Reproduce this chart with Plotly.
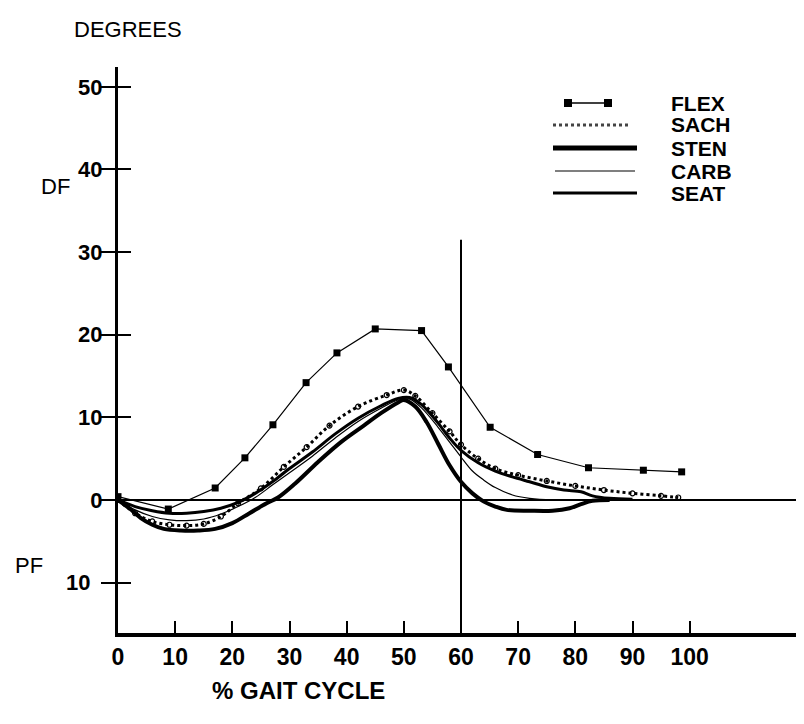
import plotly.graph_objects as go

# ---------------- data ----------------
flex_x = [0, 8.8, 17.0, 22.2, 27.1, 32.9, 38.3, 45.0, 53.1, 57.8, 65.1, 73.4, 82.3, 91.9, 98.6]
flex_y = [0.4, -1.1, 1.45, 5.1, 9.1, 14.2, 17.8, 20.7, 20.5, 16.1, 8.8, 5.5, 3.9, 3.6, 3.4]

sach_x = [0, 3, 6, 9, 12, 15, 18, 21, 25, 29, 33, 37, 42, 47, 50, 52, 55, 58, 60, 63, 66, 70, 75, 80, 85, 90, 95, 98]
sach_y = [0, -1.6, -2.6, -3.0, -3.1, -2.9, -2.0, -0.4, 1.4, 4.0, 6.4, 9.0, 11.3, 12.7, 13.3, 12.6, 10.5, 8.3, 6.7, 5.0, 3.8, 3.0, 2.3, 1.7, 1.2, 0.8, 0.5, 0.3]

sten_x = [0, 2, 4, 6, 8, 11, 14, 17, 20, 23, 26, 28, 31, 35, 39, 43, 46, 49, 50, 52, 54, 56, 58, 60, 62, 64, 66, 68, 72, 76, 79, 81, 83, 86]
sten_y = [0, -1.0, -2.2, -3.0, -3.5, -3.7, -3.7, -3.5, -2.8, -1.6, -0.4, 0.3, 2.0, 4.6, 7.0, 9.0, 10.5, 11.8, 12.1, 11.3, 9.4, 6.8, 4.2, 2.2, 0.8, -0.2, -0.8, -1.2, -1.3, -1.3, -1.0, -0.5, -0.1, 0.0]

carb_x = [0, 3, 6, 9, 12, 15, 18, 21, 24, 27, 30, 34, 38, 42, 46, 49, 51, 53, 56, 58, 60, 62, 64, 66, 69, 72, 76, 80]
carb_y = [0, -1.2, -2.0, -2.4, -2.5, -2.3, -1.7, -0.8, 0.3, 1.8, 3.3, 5.3, 7.5, 9.5, 11.1, 12.1, 12.2, 11.2, 8.8, 7.0, 5.2, 3.5, 2.4, 1.5, 0.6, 0.2, 0.0, 0.0]

seat_x = [0, 3, 6, 9, 12, 15, 18, 21, 24, 27, 30, 34, 38, 42, 46, 49, 51, 53, 56, 58, 60, 63, 66, 69, 72, 75, 78, 81, 83, 86, 90]
seat_y = [0, -0.8, -1.3, -1.6, -1.6, -1.4, -1.0, -0.3, 0.8, 2.2, 3.8, 5.8, 8.0, 9.9, 11.4, 12.3, 12.4, 11.6, 9.3, 7.5, 6.0, 4.5, 3.5, 2.8, 2.2, 1.6, 1.2, 1.0, 0.5, 0.2, 0.1]

toe_off_x = [60, 60]
toe_off_y = [-16.1, 31.5]

x_tick_vals = [0, 10, 20, 30, 40, 50, 60, 70, 80, 90, 100]
x_tick_text = ["0", "10", "20", "30", "40", "50", "60", "70", "80", "90", "100"]
y_tick_vals = [-10, 0, 10, 20, 30, 40, 50]
y_tick_text = ["10\u00a0\u00a0", "0", "10", "20", "30", "40", "50"]

legend_labels = ["FLEX", "SACH", "STEN", "CARB", "SEAT"]

# ---------------- figure ----------------
OFF = 8  # page body margin
W, H = 804 - OFF, 724 - OFF
ML, MT = 118 - OFF, 67 - OFF
MR = 0
MB = H - (633 - OFF)
PW, PH = W - ML - MR, H - MT - MB


def paper(px, py):
    """screen pixel -> paper coordinates (for decorations only)"""
    return (px - OFF - ML) / PW, (H - MB - (py - OFF)) / PH


SANS = "Liberation Sans, Arial, sans-serif"

fig = go.Figure()

fig.add_trace(go.Scatter(x=sach_x, y=sach_y, name="SACH", mode="lines+markers",
                         line=dict(color="black", width=3, dash="dot", shape="spline"),
                         marker=dict(symbol="circle-open", size=5, color="black", line=dict(width=1.2))))
fig.add_trace(go.Scatter(x=carb_x, y=carb_y, name="CARB", mode="lines",
                         line=dict(color="black", width=1.2, shape="spline")))
fig.add_trace(go.Scatter(x=seat_x, y=seat_y, name="SEAT", mode="lines",
                         line=dict(color="black", width=3, shape="spline")))
fig.add_trace(go.Scatter(x=sten_x, y=sten_y, name="STEN", mode="lines",
                         line=dict(color="black", width=4, shape="spline")))
fig.add_trace(go.Scatter(x=flex_x, y=flex_y, name="FLEX", mode="lines+markers",
                         line=dict(color="black", width=1.2),
                         marker=dict(symbol="square", size=7, color="black")))
fig.add_trace(go.Scatter(x=toe_off_x, y=toe_off_y, mode="lines", yaxis="y2",
                         line=dict(color="black", width=2), hoverinfo="skip"))

# legend (drawn as layout decoration)
shapes = []
annotations = []
leg_rows = [103, 125, 148, 171, 193]
for lab, yy in zip(legend_labels, leg_rows):
    tx, ty = paper(669, yy)
    annotations.append(dict(x=tx, y=ty, xref="paper", yref="paper", text=lab, showarrow=False,
                            xanchor="left", yanchor="middle", height=21,
                            font=dict(family=SANS, size=21, color="black", weight="bold")))


def hline(x0, x1, y, width, dash="solid", color="black"):
    a, b = paper(x0, y)
    c, _ = paper(x1, y)
    shapes.append(dict(type="line", xref="paper", yref="paper", x0=a, y0=b, x1=c, y1=b,
                       line=dict(color=color, width=width, dash=dash)))


def square(cx, cy, s):
    a, b = paper(cx - s / 2, cy + s / 2)
    c, d = paper(cx + s / 2, cy - s / 2)
    shapes.append(dict(type="rect", xref="paper", yref="paper", x0=a, y0=b, x1=c, y1=d,
                       line=dict(width=0), fillcolor="black"))


hline(568, 608, leg_rows[0], 1.5)
square(568, leg_rows[0], 8)
square(608, leg_rows[0], 8)
hline(553, 630, leg_rows[1], 3, dash="dot", color="#444")
hline(553, 637, leg_rows[2], 5)
hline(555, 635, leg_rows[3], 1.2)
hline(553, 637, leg_rows[4], 3)

for txt, (px, py), sz in [("DEGREES", (128, 30), 22), ("DF", (55, 186), 22), ("PF", (29, 565), 22)]:
    ax, ay = paper(px, py)
    annotations.append(dict(x=ax, y=ay, xref="paper", yref="paper", text=txt, showarrow=False,
                            xanchor="center", yanchor="middle",
                            font=dict(family=SANS, size=sz, color="black")))

ax, ay = paper(298, 690)
annotations.append(dict(x=ax, y=ay, xref="paper", yref="paper", text="% GAIT CYCLE", showarrow=False,
                        xanchor="center", yanchor="middle",
                        font=dict(family=SANS, size=24, color="black", weight="bold")))

fig.update_layout(
    width=W, height=H,
    margin=dict(l=ML, r=MR, t=MT, b=MB),
    paper_bgcolor="white", plot_bgcolor="white",
    showlegend=False,
    font=dict(family=SANS, color="black"),
    shapes=shapes, annotations=annotations,
    xaxis=dict(range=[0, 120], showgrid=False, zeroline=False,
               showline=True, linecolor="black", linewidth=4,
               ticks="inside", ticklen=12, tickwidth=1.5, tickcolor="black",
               tickvals=x_tick_vals, ticktext=x_tick_text,
               tickfont=dict(family=SANS, size=23, color="black", weight="bold")),
    yaxis=dict(range=[-16.1, 52.4], showgrid=False,
               zeroline=True, zerolinecolor="black", zerolinewidth=1.5,
               showline=True, linecolor="black", linewidth=3,
               ticks="outside", ticklen=14, tickwidth=1.5, tickcolor="black",
               ticklabelstandoff=-6,
               tickvals=y_tick_vals, ticktext=y_tick_text,
               tickfont=dict(family=SANS, size=22, color="black", weight="bold")),
    yaxis2=dict(overlaying="y", matches="y", showgrid=False, zeroline=False, showline=False,
                ticks="inside", ticklen=13, tickwidth=1.5, tickcolor="black",
                tickvals=y_tick_vals, showticklabels=False),
)

fig.write_html("out.html")
